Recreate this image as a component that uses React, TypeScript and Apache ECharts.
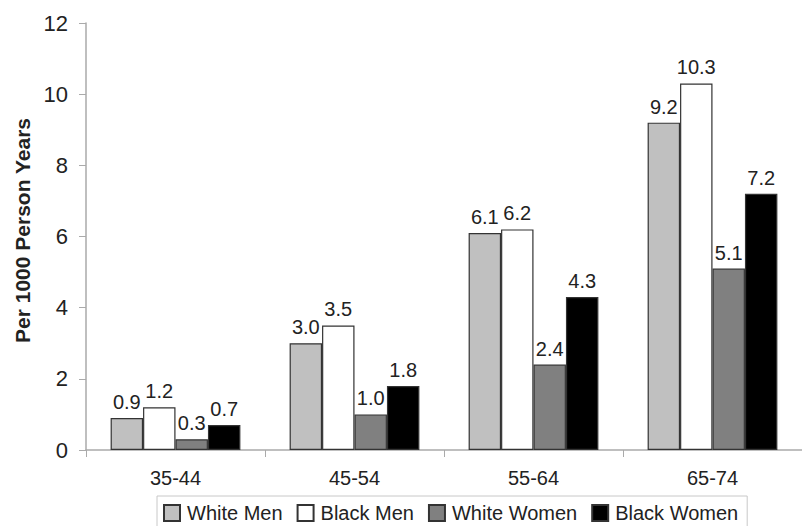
import React, { useEffect, useRef } from "react";
import * as echarts from "echarts";

const categories = ["35-44", "45-54", "55-64", "65-74"];
const whiteMen = [0.9, 3.0, 6.1, 9.2];
const blackMen = [1.2, 3.5, 6.2, 10.3];
const whiteWomen = [0.3, 1.0, 2.4, 5.1];
const blackWomen = [0.7, 1.8, 4.3, 7.2];
const seriesNames = ["White Men", "Black Men", "White Women", "Black Women"];
const seriesColors = ["#c0c0c0", "#ffffff", "#808080", "#000000"];
const yTitle = "Per 1000 Person Years";

const FONT = "'Liberation Sans', Arial, sans-serif";

export default function App() {
  const ref = useRef<HTMLDivElement>(null);
  useEffect(() => {
    if (!ref.current) return;
    const chart = echarts.init(ref.current, null, { renderer: "svg" });
    const data = [whiteMen, blackMen, whiteWomen, blackWomen];
    chart.setOption({
      animation: false,
      backgroundColor: "#ffffff",
      textStyle: { fontFamily: FONT },
      grid: { left: 86, top: 23, width: 728, height: 427, containLabel: false },
      legend: {
        left: 157,
        top: 496,
        padding: [7, 9, 20, 6],
        itemWidth: 16,
        itemHeight: 16,
        itemGap: 14,
        icon: "rect",
        borderColor: "#c8c8c8",
        borderWidth: 1,
        textStyle: { fontSize: 20, color: "#222", fontFamily: FONT, padding: [0, 0, 0, 2] },
        data: seriesNames,
      },
      xAxis: {
        type: "category",
        data: categories,
        axisLine: { lineStyle: { color: "#aaaaaa", width: 1.5 } },
        axisTick: { show: true, length: 7, lineStyle: { color: "#aaaaaa" } },
        axisLabel: { fontSize: 20, color: "#222", margin: 18, fontFamily: FONT },
        splitLine: { show: false },
      },
      yAxis: {
        type: "value",
        min: 0,
        max: 12,
        interval: 2,
        name: yTitle,
        nameLocation: "middle",
        nameRotate: 90,
        nameGap: 52,
        nameTextStyle: {
          fontSize: 21,
          fontWeight: "bold",
          color: "#222",
          fontFamily: FONT,
          padding: [0, 0, 0, 12],
        },
        axisLine: { show: true, lineStyle: { color: "#aaaaaa", width: 1.5 } },
        axisTick: { show: true, length: 7, lineStyle: { color: "#aaaaaa" } },
        axisLabel: { fontSize: 22, color: "#222", margin: 18, fontFamily: FONT },
        splitLine: { show: false },
      },
      series: seriesNames.map((name, i) => ({
        name,
        type: "bar",
        data: data[i],
        barGap: "0%",
        barCategoryGap: "27.5%",
        itemStyle: { color: seriesColors[i], borderColor: "#333", borderWidth: 1.2 },
        label: {
          show: true,
          position: "top",
          distance: 6,
          fontSize: 20,
          color: "#222",
          fontFamily: FONT,
          formatter: (p: any) => Number(p.value).toFixed(1),
        },
      })),
    });
    return () => chart.dispose();
  }, []);
  return (
    <div
      ref={ref}
      style={{ position: "fixed", left: 0, top: 0, width: 802, height: 526, background: "#fff" }}
    />
  );
}
